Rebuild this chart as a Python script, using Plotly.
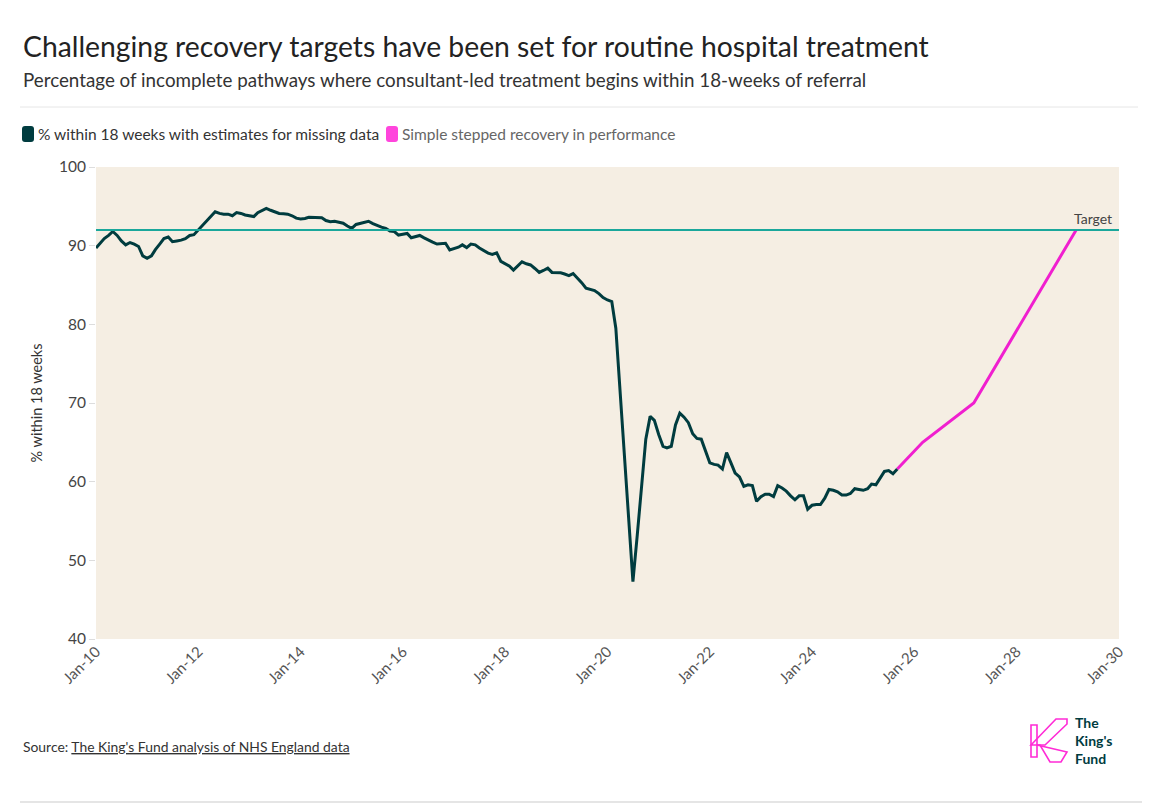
import pandas as pd
import plotly.graph_objects as go

# ---------------- data ----------------
start_month = "2010-01-01"
pct_within_18_weeks = [
    # 2010
    89.7, 90.4, 90.9, 91.3, 91.8, 91.3, 90.6, 90.1, 90.4, 90.2, 89.9, 88.7,
    # 2011
    88.4, 88.7, 89.5, 90.2, 90.9, 91.1, 90.5, 90.6, 90.7, 90.9, 91.3, 91.4,
    # 2012
    92.0, 92.5, 93.2, 93.8, 94.3, 94.1, 94.0, 94.0, 93.8, 94.2, 94.1, 93.9,
    # 2013
    93.8, 93.7, 94.2, 94.5, 94.75, 94.5, 94.3, 94.1, 94.05, 94.0, 93.8, 93.5,
    # 2014
    93.4, 93.45, 93.6, 93.6, 93.6, 93.55, 93.2, 93.05, 93.1, 93.0, 92.85, 92.5,
    # 2015
    92.2, 92.7, 92.8, 93.0, 93.1, 92.8, 92.55, 92.35, 92.2, 91.85, 91.8, 91.35,
    # 2016
    91.45, 91.55, 91.0, 91.2, 91.3, 91.0, 90.7, 90.45, 90.2, 90.25, 90.3, 89.45,
    # 2017
    89.6, 89.8, 90.1, 89.75, 90.2, 90.1, 89.7, 89.35, 89.05, 88.9, 89.1, 88.0,
    # 2018
    87.75, 87.4, 86.9, 87.4, 87.95, 87.7, 87.55, 87.1, 86.6, 86.85, 87.15, 86.6,
    # 2019
    86.6, 86.55, 86.4, 86.2, 86.45, 85.9, 85.3, 84.6, 84.45, 84.3, 83.9, 83.4,
    # 2020
    83.1, 82.9, 79.5, 71.2, 63.0, 55.0, 47.3, 53.2, 59.2, 65.4, 68.3, 67.8,
    # 2021
    66.0, 64.5, 64.3, 64.5, 67.2, 68.7, 68.2, 67.5, 66.1, 65.5, 65.4, 63.8,
    # 2022
    62.4, 62.2, 62.1, 61.6, 63.7, 62.4, 61.1, 60.6, 59.4, 59.6, 59.5, 57.5,
    # 2023
    58.1, 58.4, 58.4, 58.1, 59.5, 59.2, 58.8, 58.2, 57.7, 58.2, 58.2, 56.5,
    # 2024
    57.0, 57.1, 57.1, 57.9, 59.0, 58.9, 58.7, 58.3, 58.3, 58.5, 59.1, 59.0,
    # 2025
    58.9, 59.1, 59.7, 59.6, 60.5, 61.3, 61.4, 61.0, 61.6,
]
recovery_dates = ["2025-09-01", "2026-03-01", "2027-03-01", "2029-03-01"]
recovery_values = [61.6, 65.0, 70.0, 92.0]
target_value = 92
x_range = ["2010-01-01", "2030-01-01"]
y_ticks = [40, 50, 60, 70, 80, 90, 100]

dates = pd.date_range(start_month, periods=len(pct_within_18_weeks), freq="MS")

# ---------------- style ----------------
FONT = "Lato, 'Open Sans', sans-serif"
DARK = "#003c3f"
PINK = "#f01fcf"
TEAL = "#1aa79b"
BG = "#f5eee3"

W, H = 1162, 808
L, R, T, B = 96, 1119, 167, 639


def px(x):
    return (x - L) / (R - L)


def py(y):
    return (B - y) / (B - T)


fig = go.Figure()

fig.add_trace(go.Scatter(
    x=dates, y=pct_within_18_weeks, mode="lines",
    line=dict(color=DARK, width=3), hoverinfo="skip", showlegend=False,
))
fig.add_trace(go.Scatter(
    x=recovery_dates, y=recovery_values, mode="lines",
    line=dict(color=PINK, width=3), hoverinfo="skip", showlegend=False,
))

shapes = []
annotations = []

# target line
shapes.append(dict(type="line", xref="paper", yref="y", x0=0, x1=1,
                   y0=target_value, y1=target_value,
                   line=dict(color=TEAL, width=2), layer="above"))
annotations.append(dict(xref="paper", yref="y", x=px(1114), y=target_value,
                        text="Target", showarrow=False, xanchor="right",
                        yanchor="bottom", yshift=1,
                        font=dict(family=FONT, size=14, color="#444")))

# title / subtitle
annotations.append(dict(xref="paper", yref="paper", x=px(21), y=py(46),
                        text="Challenging recovery targets have been set for routine hospital treatment",
                        showarrow=False, xanchor="left", yanchor="middle",
                        font=dict(family=FONT, size=28.3, color="#222")))
annotations.append(dict(xref="paper", yref="paper", x=px(21), y=py(80),
                        text="Percentage of incomplete pathways where consultant-led treatment begins within 18-weeks of referral",
                        showarrow=False, xanchor="left", yanchor="middle",
                        font=dict(family=FONT, size=18.8, color="#333")))

# separator rules
shapes.append(dict(type="line", xref="paper", yref="paper", x0=px(20), x1=px(1138),
                   y0=py(107), y1=py(107), line=dict(color="#e6e6e6", width=1)))
shapes.append(dict(type="line", xref="paper", yref="paper", x0=px(20), x1=px(1142),
                   y0=py(802), y1=py(802), line=dict(color="#dddddd", width=1.5)))

# custom legend


def rounded_rect(x0, y0, x1, y1, r):
    return (f"M {px(x0+r)} {py(y0)} L {px(x1-r)} {py(y0)} "
            f"Q {px(x1)} {py(y0)} {px(x1)} {py(y0+r)} L {px(x1)} {py(y1-r)} "
            f"Q {px(x1)} {py(y1)} {px(x1-r)} {py(y1)} L {px(x0+r)} {py(y1)} "
            f"Q {px(x0)} {py(y1)} {px(x0)} {py(y1-r)} L {px(x0)} {py(y0+r)} "
            f"Q {px(x0)} {py(y0)} {px(x0+r)} {py(y0)} Z")


shapes.append(dict(type="path", xref="paper", yref="paper",
                   path=rounded_rect(22, 126, 34, 142, 3),
                   fillcolor=DARK, line=dict(width=0)))
annotations.append(dict(xref="paper", yref="paper", x=px(36), y=py(134),
                        text="% within 18 weeks with estimates for missing data",
                        showarrow=False, xanchor="left", yanchor="middle",
                        font=dict(family=FONT, size=15.5, color="#333")))
shapes.append(dict(type="path", xref="paper", yref="paper",
                   path=rounded_rect(386, 126, 398, 142, 3),
                   fillcolor="#ff45dc", line=dict(width=0)))
annotations.append(dict(xref="paper", yref="paper", x=px(400), y=py(134),
                        text="Simple stepped recovery in performance",
                        showarrow=False, xanchor="left", yanchor="middle",
                        font=dict(family=FONT, size=15.5, color="#666")))

# source
annotations.append(dict(xref="paper", yref="paper", x=px(21), y=py(746),
                        text="Source: <u>The King's Fund analysis of NHS England data</u>",
                        showarrow=False, xanchor="left", yanchor="middle",
                        font=dict(family=FONT, size=13.9, color="#333")))

# logo (approximate)
logo_paths = [
    [(1031, 725), (1037, 725), (1037, 757), (1031, 757)],
    [(1031, 745), (1056, 719), (1067, 719), (1067, 724), (1045, 745)],
    [(1037, 745), (1067, 752), (1061, 762), (1050, 762), (1040, 745)],
]
for pts in logo_paths:
    p = "M " + " L ".join(f"{px(a)} {py(b)}" for a, b in pts) + " Z"
    shapes.append(dict(type="path", xref="paper", yref="paper", path=p,
                       line=dict(color="#ff2bd6", width=1.6)))
annotations.append(dict(xref="paper", yref="paper", x=px(1073), y=py(740),
                        text="<b>The</b><br><b>King's</b><br><b>Fund</b>",
                        showarrow=False, xanchor="left", yanchor="middle",
                        align="left",
                        font=dict(family=FONT, size=14, color=DARK)))

fig.update_layout(
    width=W, height=H,
    margin=dict(l=L, r=W - R, t=T, b=H - B, pad=0),
    paper_bgcolor="white", plot_bgcolor=BG,
    font=dict(family=FONT, color="#444"),
    shapes=shapes, annotations=annotations,
    showlegend=False,
)
fig.update_xaxes(
    type="date", range=x_range, tick0="2010-01-01", dtick="M24",
    tickformat="%b-%y", tickangle=-45, showgrid=False, zeroline=False,
    ticks="", tickfont=dict(family=FONT, size=15, color="#555"),
    showline=False,
)
fig.update_yaxes(
    range=[40, 100], tickvals=y_ticks, showgrid=False, zeroline=False,
    ticks="outside", ticklen=6, tickcolor="#dddddd", tickwidth=1,
    tickfont=dict(family=FONT, size=15.5, color="#444"),
    title=dict(text="% within 18 weeks", standoff=12,
               font=dict(family=FONT, size=14.5, color="#333")),
)

fig.write_html("out.html")
